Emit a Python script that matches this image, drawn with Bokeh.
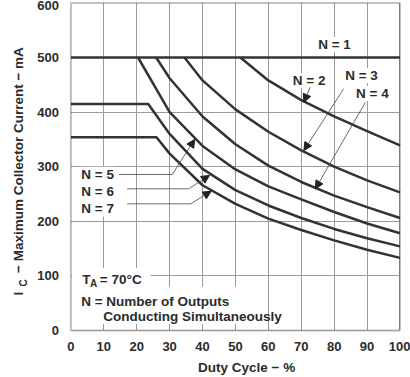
from math import pi
from bokeh.plotting import figure
from bokeh.models import Label, Arrow, NormalHead, BoxAnnotation, FixedTicker, Range1d
from bokeh.embed import file_html
from bokeh.resources import INLINE

# ---- data ----
x_ticks = [0, 10, 20, 30, 40, 50, 60, 70, 80, 90, 100]
y_ticks = [0, 100, 200, 300, 400, 500, 600]

duty_n1 = [0, 100]
ic_n1 = [500, 500]
duty_n2 = [51.5, 60, 70, 80, 90, 100]
ic_n2 = [500, 458, 422, 392, 365, 339]
duty_n3 = [34.5, 40, 50, 60, 70, 80, 90, 100]
ic_n3 = [500, 458, 405, 364, 330, 300, 275, 253]
duty_n4 = [25.9, 30, 40, 50, 60, 70, 80, 90, 100]
ic_n4 = [500, 462, 392, 341, 302, 272, 247, 226, 206]
duty_n5 = [20.4, 30, 40, 50, 60, 70, 80, 90, 100]
ic_n5 = [500, 400, 338, 295, 264, 240, 217, 196, 178]
duty_n6 = [0, 23.5, 30, 40, 50, 60, 70, 80, 90, 100]
ic_n6 = [415, 415, 360, 296, 257, 229, 206, 186, 169, 154]
duty_n7 = [0, 26, 30, 40, 50, 60, 70, 80, 90, 100]
ic_n7 = [354, 354, 324, 266, 232, 205, 184, 165, 148, 133]

series = [(duty_n1, ic_n1), (duty_n2, ic_n2), (duty_n3, ic_n3), (duty_n4, ic_n4),
          (duty_n5, ic_n5), (duty_n6, ic_n6), (duty_n7, ic_n7)]

FONT = "Liberation Sans"
DARK = "#2b2b2b"
FS = "13.5px"

# The frame covers the whole canvas; the axes sit on the data edges (x=0, y=0).
p = figure(width=410, height=377, x_range=Range1d(-21.4, 103.2), y_range=Range1d(-86.1, 604.4),
           output_backend="svg", toolbar_location=None,
           min_border_left=0, min_border_right=0, min_border_top=0, min_border_bottom=0)
p.background_fill_color = "white"
p.border_fill_color = "white"
p.outline_line_color = None

for ax, ticks, sd in ((p.xaxis, x_ticks, 6), (p.yaxis, y_ticks, 6)):
    ax.ticker = FixedTicker(ticks=ticks)
    ax.fixed_location = 0
    ax.major_tick_line_color = None
    ax.minor_tick_line_color = None
    ax.axis_line_color = None
    ax.major_label_text_font = FONT
    ax.major_label_text_font_style = "bold"
    ax.major_label_text_font_size = "13px"
    ax.major_label_text_color = DARK
    ax.major_label_standoff = sd

p.xgrid.ticker = FixedTicker(ticks=x_ticks)
p.ygrid.ticker = FixedTicker(ticks=y_ticks)
for g in (p.xgrid, p.ygrid):
    g.grid_line_color = "#9a9a9a"
    g.grid_line_width = 1
    g.level = "image"

# white masks: outside the data area, and behind the text blocks
for l, r, b, t in ((-30, 0, -100, 700), (-30, 110, -100, 0), (100, 110, -100, 700),
                   (-30, 110, 600, 700),
                   (2.3, 16.6, 209, 298), (0.3, 24.2, 80, 114), (0.3, 55, 12, 80)):
    p.add_layout(BoxAnnotation(left=l, right=r, bottom=b, top=t, fill_color="white",
                               fill_alpha=1, line_color=None, level="underlay"))

for dx, dy in series:
    p.line(dx, dy, line_width=2.5, line_color="#333333", line_join="round")

# plot-area border
p.add_layout(BoxAnnotation(left=0, right=100, bottom=0, top=600, fill_color=None,
                           line_color="#333333", line_width=2))

def slab(x, y, text, size=FS, align="left", baseline="alphabetic", angle=0, bg=None):
    p.add_layout(Label(x=x, y=y, text=text, text_font=FONT, text_font_style="bold",
                       text_font_size=size, text_color=DARK, text_align=align,
                       text_baseline=baseline, angle=angle, background_fill_color=bg))

slab(80.1, 524, "N = 1", align="center", baseline="middle", bg="white")
slab(72.4, 458, "N = 2", align="center", baseline="middle", bg="white")
slab(88.3, 467, "N = 3", align="center", baseline="middle", bg="white")
slab(91.6, 434, "N = 4", align="center", baseline="middle", bg="white")
slab(8.1, 286, "N = 5", align="center", baseline="middle", bg="white")
slab(8.1, 255, "N = 6", align="center", baseline="middle", bg="white")
slab(8.1, 224, "N = 7", align="center", baseline="middle", bg="white")

slab(3.43, 92.5, "T")
slab(5.8, 86.1, "A", size="10px")
slab(8.8, 92.5, "= 70°C")
slab(3.13, 52.2, "N = Number of Outputs")
slab(9.8, 25.6, "Conducting Simultaneously")

# axis titles
slab(53.4, -67.8, "Duty Cycle − %", align="center")
slab(-16.0, 64.1, "I", angle=pi / 2)
slab(-14.55, 80.6, "C", size="10px", angle=pi / 2)
slab(-16.0, 105.3, "− Maximum Collector Current − mA", angle=pi / 2)

# leader lines and arrows
head = dict(size=8, fill_color="#222222", line_color="#222222")
for xs, ys, xe, ye in ((72.7, 445.6, 70.8, 418), (82.9, 442.7, 70.8, 329.7),
                       (89.5, 418, 74.3, 259.5), (30.8, 285.7, 37.6, 350),
                       (35.8, 259.5, 42.1, 284), (36.4, 232, 42.6, 255)):
    p.add_layout(Arrow(end=NormalHead(**head), x_start=xs, y_start=ys, x_end=xe, y_end=ye,
                       line_color="#444444", line_width=0.8))
for xs, ys, xe, ye in ((14.6, 285.7, 30.8, 285.7), (17.1, 259.5, 35.8, 259.5),
                       (17.1, 232, 36.4, 232)):
    p.add_layout(Arrow(end=None, x_start=xs, y_start=ys, x_end=xe, y_end=ye,
                       line_color="#444444", line_width=0.8))

open("out.html", "w").write(file_html(p, INLINE))
